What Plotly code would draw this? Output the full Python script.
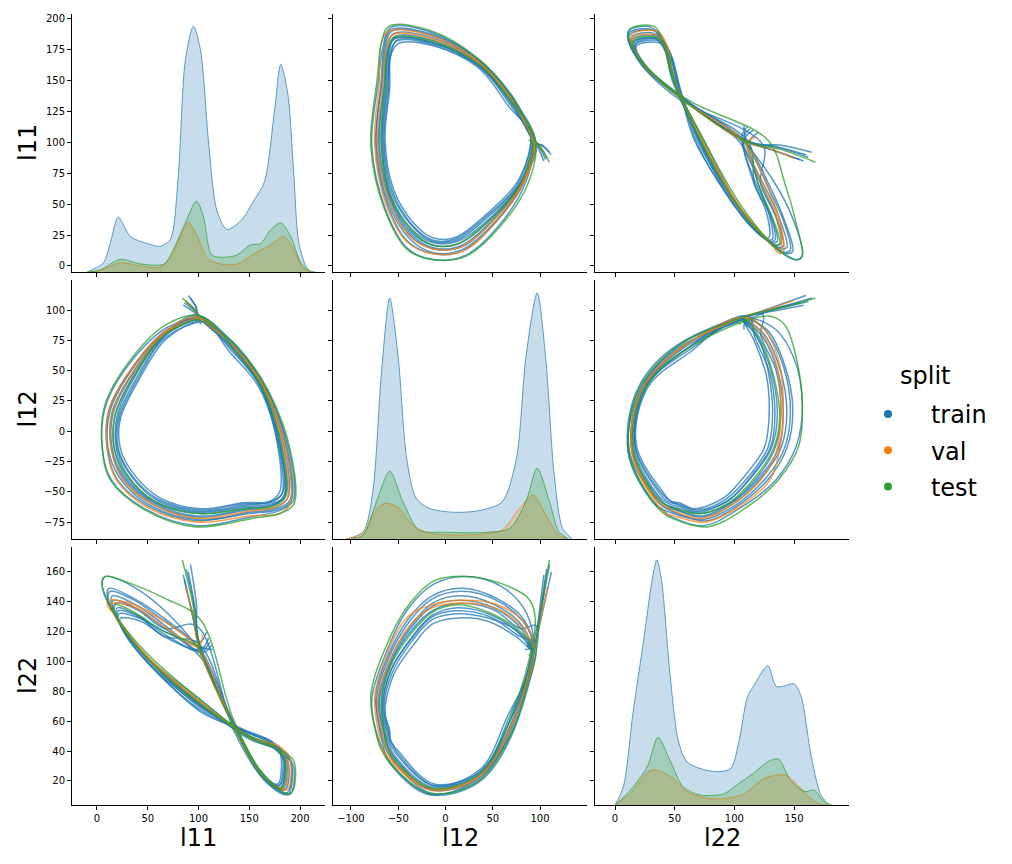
import plotly.graph_objects as go
from plotly.subplots import make_subplots

variables = ["l11", "l12", "l22"]
splits = ["train", "val", "test"]
split_colors = {"train": "#1f77b4", "val": "#ff7f0e", "test": "#2ca02c"}
split_rgb = {"train": "31,119,180", "val": "255,127,14", "test": "44,160,44"}

# trajectories, every point is (l11, l12, l22)
train_1 = [
    (88, 107, 162), (96, 101, 136),
    (100, 96, 114), (137, 71, 54), (168, 33, 21), (190, -18, 11), (193, -58, 31), (178, -66, 41), (150, -71, 48),
    (98, -78, 74), (47, -64, 104), (14, -40, 135), (5, -12, 152), (9, 22, 157), (36, 60, 150), (70, 86, 132),
    (104, 93, 104), (134, 68, 60), (162, 36, 26), (181, -14, 16), (184, -54, 37), (172, -60, 45), (146, -62, 53),
    (101, -67, 68), (57, -58, 94), (30, -36, 116), (19, -14, 131), (20, 13, 136), (40, 49, 131), (67, 79, 118),
    (104, 92, 106), (113, 86, 111),
]
train_2 = [
    (92, 110, 165), (98, 102, 138),
    (99, 95, 118), (136, 70, 55), (166, 34, 20), (187, -16, 12), (190, -57, 35), (176, -64, 43), (149, -67, 50),
    (99, -74, 76), (51, -62, 102), (20, -40, 128), (10, -14, 144), (12, 18, 149), (37, 55, 142), (68, 83, 128),
    (102, 92, 108), (132, 67, 62), (160, 38, 27), (178, -12, 18), (180, -50, 40), (170, -58, 47), (144, -59, 54),
    (103, -64, 66), (62, -55, 91), (35, -34, 111), (23, -14, 125), (23, 10, 129), (43, 45, 127), (68, 76, 116),
    (102, 91, 108), (110, 87, 116),
]
train_3 = [
    (85, 104, 158), (94, 99, 132),
    (100, 95, 112), (135, 70, 57), (165, 35, 22), (185, -15, 14), (188, -55, 33), (175, -63, 42), (148, -65, 51),
    (100, -71, 72), (54, -60, 99), (25, -38, 123), (14, -14, 139), (15, 16, 144), (38, 52, 138), (67, 81, 124),
    (103, 93, 102), (130, 66, 64), (159, 37, 28), (179, -13, 17), (182, -52, 38), (171, -59, 46), (145, -60, 53),
    (102, -65, 70), (60, -56, 93), (33, -35, 114), (21, -14, 128), (22, 11, 132), (42, 46, 129), (67, 77, 120),
    (105, 90, 109), (114, 84, 108),
]
train_4 = [
    (90, 112, 160), (97, 103, 134),
    (101, 94, 110), (134, 69, 58), (162, 36, 24), (181, -14, 15), (184, -54, 34), (172, -61, 43), (147, -63, 51),
    (101, -68, 71), (57, -59, 97), (28, -37, 120), (17, -14, 134), (18, 14, 139), (39, 50, 135), (67, 80, 122),
    (98, 96, 124), (136, 71, 52), (167, 35, 19), (188, -16, 11), (191, -58, 32), (177, -65, 41), (150, -68, 49),
    (99, -73, 74), (52, -61, 101), (22, -38, 127), (11, -14, 142), (13, 17, 147), (37, 54, 141), (67, 82, 127),
    (101, 94, 113), (108, 89, 120),
]
train_5 = [
    (86, 106, 155), (95, 100, 128),
    (102, 93, 106), (133, 68, 60), (161, 37, 25), (180, -13, 17), (183, -51, 39), (171, -58, 47), (146, -61, 54),
    (102, -66, 69), (59, -57, 95), (32, -35, 116), (20, -14, 130), (21, 12, 134), (41, 47, 130), (66, 78, 117),
    (100, 95, 112), (135, 69, 56), (164, 35, 23), (183, -15, 14), (186, -53, 35), (174, -61, 43), (148, -64, 50),
    (100, -70, 72), (55, -59, 98), (26, -37, 122), (15, -14, 137), (16, 15, 141), (38, 51, 136), (67, 80, 122),
    (103, 92, 107), (111, 86, 113),
]
val_1 = [
    (87, 108, 150), (95, 101, 130),
    (100, 95, 110), (136, 69, 55), (166, 34, 22), (187, -17, 14), (190, -60, 35), (180, -68, 43), (150, -70, 50),
    (99, -75, 75), (50, -63, 103), (19, -40, 130), (10, -14, 138), (12, 18, 141), (37, 55, 138), (68, 83, 126),
    (100, 94, 109), (135, 69, 56), (164, 35, 23), (184, -15, 15), (187, -56, 34), (175, -63, 43), (149, -66, 50),
    (100, -72, 73), (54, -60, 99), (24, -38, 124), (14, -14, 136), (15, 15, 139), (38, 52, 136), (67, 81, 123),
    (100, 93, 110), (104, 91, 118),
]
test_1 = [
    (84, 110, 168), (94, 102, 140),
    (100, 96, 113), (138, 70, 52), (169, 33, 19), (191, -18, 12), (194, -60, 33), (180, -68, 41), (153, -72, 48),
    (97, -79, 77), (47, -65, 107), (13, -40, 137), (5, -12, 154), (8, 22, 157), (34, 60, 152), (68, 88, 142),
    (102, 95, 128), (134, 69, 62), (163, 36, 25), (182, -14, 15), (185, -55, 35), (173, -62, 44), (147, -64, 51),
    (101, -68, 72), (57, -58, 97), (29, -36, 119), (17, -14, 133), (18, 13, 138), (39, 49, 132), (66, 79, 120),
    (100, 92, 110), (102, 88, 104),
]
trajectories = {"train": [train_1, train_2, train_3, train_4, train_5], "val": [val_1], "test": [test_1]}

# diagonal densities, heights as a share of the panel height
kde_l11_x_train = [-10, 6, 13, 21, 33, 49, 62, 72, 80, 87, 95, 102, 110, 118, 128, 142, 155, 165, 175, 181, 188, 194, 199, 208, 215]
kde_l11_y_train = [0, 0.034, 0.11, 0.212, 0.137, 0.111, 0.10, 0.124, 0.37, 0.82, 0.953, 0.86, 0.50, 0.24, 0.165, 0.20, 0.28, 0.35, 0.63, 0.805, 0.69, 0.37, 0.11, 0.008, 0]
kde_l11_x_val = [-8, 3, 23, 43, 62, 72, 82, 90, 99, 109, 122, 138, 155, 171, 184, 194, 203, 212]
kde_l11_y_val = [0, 0.005, 0.036, 0.023, 0.019, 0.053, 0.137, 0.193, 0.137, 0.053, 0.031, 0.031, 0.072, 0.105, 0.137, 0.085, 0.014, 0]
kde_l11_x_test = [-8, 3, 23, 43, 66, 75, 87, 98, 105, 113, 125, 138, 151, 161, 171, 181, 191, 201, 210]
kde_l11_y_test = [0, 0.008, 0.049, 0.031, 0.031, 0.085, 0.19, 0.275, 0.214, 0.066, 0.057, 0.066, 0.105, 0.11, 0.163, 0.19, 0.137, 0.034, 0]

kde_l12_x_train = [-105, -87, -77, -68, -59, -50, -41, -31, -17, 11, 39, 60, 75, 85, 97, 106, 115, 124, 134]
kde_l12_y_train = [0, 0.028, 0.18, 0.63, 0.93, 0.70, 0.31, 0.157, 0.118, 0.103, 0.112, 0.144, 0.31, 0.70, 0.95, 0.70, 0.247, 0.04, 0]
kde_l12_x_val = [-105, -87, -77, -64, -49, -35, -17, 36, 60, 78, 93, 106, 120, 130]
kde_l12_y_val = [0, 0.022, 0.093, 0.138, 0.118, 0.054, 0.022, 0.018, 0.035, 0.118, 0.17, 0.093, 0.015, 0]
kde_l12_x_test = [-100, -87, -73, -59, -45, -28, 1, 43, 68, 85, 97, 110, 120, 130]
kde_l12_y_test = [0, 0.015, 0.144, 0.262, 0.144, 0.035, 0.026, 0.026, 0.041, 0.144, 0.273, 0.144, 0.028, 0]

kde_l22_x_train = [0, 7, 15, 24, 31, 35, 39, 46, 53, 60, 71, 86, 97, 104, 111, 116, 128, 135, 141, 150, 156, 164, 172, 179]
kde_l22_y_train = [0, 0.071, 0.355, 0.64, 0.87, 0.95, 0.87, 0.51, 0.25, 0.168, 0.142, 0.129, 0.142, 0.25, 0.42, 0.46, 0.54, 0.46, 0.46, 0.47, 0.42, 0.20, 0.045, 0]
kde_l22_x_val = [0, 13, 31, 49, 60, 77, 94, 108, 125, 143, 153, 164, 172, 178]
kde_l22_y_val = [0, 0.045, 0.136, 0.103, 0.052, 0.026, 0.026, 0.043, 0.103, 0.116, 0.078, 0.026, 0.004, 0]
kde_l22_x_test = [0, 13, 27, 36, 46, 57, 71, 91, 102, 116, 128, 137, 147, 159, 167, 175, 182]
kde_l22_y_test = [0, 0.058, 0.149, 0.262, 0.174, 0.071, 0.039, 0.043, 0.078, 0.123, 0.168, 0.178, 0.097, 0.052, 0.058, 0.013, 0]

kde_curves = {
    "l11": {"train": (kde_l11_x_train, kde_l11_y_train), "val": (kde_l11_x_val, kde_l11_y_val), "test": (kde_l11_x_test, kde_l11_y_test)},
    "l12": {"train": (kde_l12_x_train, kde_l12_y_train), "val": (kde_l12_x_val, kde_l12_y_val), "test": (kde_l12_x_test, kde_l12_y_test)},
    "l22": {"train": (kde_l22_x_train, kde_l22_y_train), "val": (kde_l22_x_val, kde_l22_y_val), "test": (kde_l22_x_test, kde_l22_y_test)},
}

x_ranges = {"l11": [-24.6, 224.6], "l12": [-119, 149.7], "l22": [-16.8, 196.1]}
y_ranges = {"l11": [-4.9, 204], "l12": [-89.0, 124.8], "l22": [3.9, 176.7]}
x_ticks = {"l11": [0, 50, 100, 150, 200], "l12": [-100, -50, 0, 50, 100], "l22": [0, 50, 100, 150]}
y_ticks = {"l11": [0, 25, 50, 75, 100, 125, 150, 175, 200],
           "l12": [-75, -50, -25, 0, 25, 50, 75, 100],
           "l22": [20, 40, 60, 80, 100, 120, 140, 160]}

W, H = 1012, 864
col_px = [(72, 325), (333, 587), (595, 849)]
row_px = [(14, 272), (280, 539), (547, 805)]
FONT = "DejaVu Sans"

fig = make_subplots(rows=3, cols=3)
idx = {v: i for i, v in enumerate(variables)}

# off-diagonal trajectory panels
for r, yvar in enumerate(variables):
    for c, xvar in enumerate(variables):
        if r == c:
            # empty trace so the base axes of the diagonal panel get drawn
            fig.add_trace(go.Scatter(x=[None], y=[None], showlegend=False, hoverinfo="skip"),
                          row=r + 1, col=c + 1)
            continue
        for split in splits:
            for traj in trajectories[split]:
                fig.add_trace(go.Scatter(
                    x=[p[idx[xvar]] for p in traj], y=[p[idx[yvar]] for p in traj],
                    mode="lines", line=dict(color=split_colors[split], width=1.5, shape="spline", smoothing=1.0),
                    opacity=0.75, showlegend=False, hoverinfo="skip"), row=r + 1, col=c + 1)

# diagonal density panels on hidden overlay axes
for i, var in enumerate(variables):
    n = i * 3 + i + 1
    overlay = 10 + i
    for split in splits:
        xs, ys = kde_curves[var][split]
        fig.add_trace(go.Scatter(
            x=xs, y=ys, mode="lines", fill="tozeroy",
            fillcolor="rgba(%s,0.25)" % split_rgb[split],
            line=dict(color="rgba(%s,0.7)" % split_rgb[split], width=1, shape="spline", smoothing=0.8),
            showlegend=False, hoverinfo="skip",
            xaxis="x" if n == 1 else "x%d" % n, yaxis="y%d" % overlay))
    base = "y" if n == 1 else "y%d" % n
    dom = [1 - row_px[i][1] / H, 1 - row_px[i][0] / H]
    fig.update_layout(**{"yaxis%d" % overlay: dict(
        overlaying=base, anchor="x" if n == 1 else "x%d" % n, range=[0, 1],
        domain=dom, visible=False, fixedrange=True)})

# legend entries
for split in splits:
    fig.add_trace(go.Scatter(x=[None], y=[None], mode="markers",
                             marker=dict(size=8, color=split_colors[split]),
                             name="\u00a0\u00a0\u00a0" + split, legendgroup=split), row=1, col=1)

axis_style = dict(showline=True, linecolor="black", linewidth=1, ticks="outside", ticklen=4,
                  tickwidth=1, tickcolor="black", showgrid=False, zeroline=False,
                  tickfont=dict(family=FONT, size=10, color="black"))

for r, yvar in enumerate(variables):
    for c, xvar in enumerate(variables):
        fig.update_xaxes(domain=[col_px[c][0] / W, col_px[c][1] / W], range=x_ranges[xvar],
                         tickvals=x_ticks[xvar], showticklabels=(r == 2), **axis_style,
                         row=r + 1, col=c + 1)
        fig.update_yaxes(domain=[1 - row_px[r][1] / H, 1 - row_px[r][0] / H], range=y_ranges[yvar],
                         tickvals=y_ticks[yvar], showticklabels=(c == 0), **axis_style,
                         row=r + 1, col=c + 1)

annotations = []
for i, var in enumerate(variables):
    cx = (col_px[i][0] + col_px[i][1]) / 2 / W
    cy = 1 - (row_px[i][0] + row_px[i][1]) / 2 / H
    annotations.append(dict(text=var, x=cx, y=1 - 838 / H, xref="paper", yref="paper",
                            xanchor="center", yanchor="middle", showarrow=False,
                            font=dict(family=FONT, size=24, color="black")))
    annotations.append(dict(text=var, x=28 / W, y=cy, xref="paper", yref="paper", textangle=-90,
                            xanchor="center", yanchor="middle", showarrow=False,
                            font=dict(family=FONT, size=24, color="black")))
annotations.append(dict(text="split", x=925 / W, y=1 - 376 / H, xref="paper", yref="paper",
                        xanchor="center", yanchor="middle", showarrow=False,
                        font=dict(family=FONT, size=24, color="black")))

fig.update_layout(
    width=W, height=H, margin=dict(l=0, r=0, t=0, b=0),
    plot_bgcolor="white", paper_bgcolor="white",
    annotations=annotations,
    legend=dict(font=dict(family=FONT, size=24, color="black"),
                x=868 / W, y=1 - 392 / H, xanchor="left", yanchor="top",
                tracegroupgap=2, bgcolor="rgba(0,0,0,0)"),
    showlegend=True,
)

fig.write_html("out.html", config={"displayModeBar": False},
               post_script="document.body.style.margin='0px';")
